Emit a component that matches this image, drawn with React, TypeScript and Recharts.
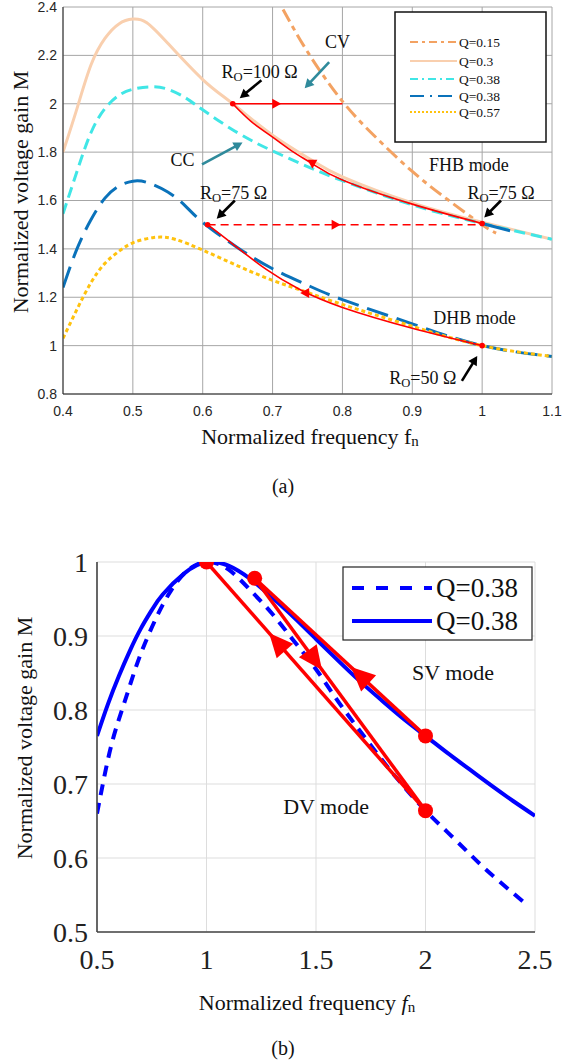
import React from 'react';
import { ComposedChart, Line, XAxis, YAxis, CartesianGrid, ReferenceLine, ReferenceDot } from 'recharts';

// ================= (a) data =================
const aTicksX = [0.4, 0.5, 0.6, 0.7, 0.8, 0.9, 1, 1.1];
const aTicksY = [0.8, 1, 1.2, 1.4, 1.6, 1.8, 2, 2.2, 2.4];

const q015F = [0.715, 0.75, 0.8, 0.85, 0.9, 0.95, 1.0, 1.02];
const q015M = [2.39, 2.215, 2.01, 1.855, 1.72, 1.605, 1.5, 1.465];

const q03F = [0.4, 0.42, 0.44, 0.46, 0.48, 0.5, 0.52, 0.55, 0.6, 0.643, 0.7, 0.757, 0.8, 0.9, 1.0, 1.1];
const q03M = [1.8, 1.98, 2.16, 2.27, 2.33, 2.35, 2.335, 2.25, 2.1, 2.0, 1.87, 1.765, 1.698, 1.59, 1.51, 1.44];

const q038cF = [0.4, 0.42, 0.44, 0.46, 0.48, 0.5, 0.525, 0.55, 0.575, 0.6, 0.65, 0.7, 0.75, 0.8, 0.9, 1.0, 1.1];
const q038cM = [1.545, 1.72, 1.88, 1.98, 2.035, 2.06, 2.07, 2.06, 2.025, 1.975, 1.88, 1.805, 1.74, 1.682, 1.582, 1.505, 1.44];

const q038bF = [0.4, 0.42, 0.44, 0.46, 0.48, 0.5, 0.52, 0.55, 0.575, 0.6, 0.65, 0.7, 0.75, 0.8, 0.9, 1.0, 1.1];
const q038bM = [1.24, 1.4, 1.52, 1.61, 1.66, 1.68, 1.675, 1.635, 1.578, 1.51, 1.405, 1.318, 1.25, 1.19, 1.09, 1.0, 0.955];

const q038bTopF = [1.0, 1.04];
const q038bTopM = [1.505, 1.475];

const q057F = [0.4, 0.42, 0.44, 0.46, 0.48, 0.5, 0.53, 0.56, 0.6, 0.65, 0.7, 0.75, 0.8, 0.9, 1.0, 1.1];
const q057M = [1.03, 1.15, 1.26, 1.34, 1.39, 1.425, 1.447, 1.44, 1.395, 1.33, 1.27, 1.22, 1.17, 1.08, 1.0, 0.955];

const redFlatF = [0.643, 0.8];
const redFlatM = [2.0, 2.0];
const redUpperF = [0.643, 0.67, 0.7, 0.73, 0.757, 0.8, 0.9, 1.0];
const redUpperM = [2.0, 1.925, 1.862, 1.8, 1.752, 1.685, 1.585, 1.505];
const redDashF = [0.607, 1.0];
const redDashM = [1.5, 1.5];
const redLowerF = [0.607, 0.643, 0.691, 0.739, 0.8, 0.9, 1.0];
const redLowerM = [1.5, 1.42, 1.315, 1.232, 1.158, 1.072, 1.0];

const aDotF = [0.643, 0.607, 1.0, 1.0];
const aDotM = [2.0, 1.5, 1.505, 1.0];

// direction markers: from -> to (marker drawn at "to")
const aMarkFromF = [0.7, 0.757, 0.785, 0.752];
const aMarkFromM = [2.0, 1.76, 1.5, 1.218];
const aMarkToF = [0.706, 0.757, 0.791, 0.746];
const aMarkToM = [2.0, 1.75, 1.5, 1.218];

// annotation arrows (tail -> head)
const aBlackTailF = [0.684, 1.027, 0.646, 0.971];
const aBlackTailM = [2.097, 1.6, 1.6, 0.854];
const aBlackHeadF = [0.653, 1.003, 0.62, 0.993];
const aBlackHeadM = [2.023, 1.53, 1.525, 0.957];
const aTealTailF = [0.781, 0.599];
const aTealTailM = [2.172, 1.749];
const aTealHeadF = [0.746, 0.657];
const aTealHeadM = [2.064, 1.84];

// annotation texts
const aTextMain = ['R', 'CV', 'CC', 'FHB mode', 'R', 'R', 'DHB mode', 'R'];
const aTextSub = ['O', '', '', '', 'O', 'O', '', 'O'];
const aTextRest = ['=100 Ω', '', '', '', '=75 Ω', '=75 Ω', '', '=50 Ω'];
const aTextF = [0.627, 0.793, 0.571, 0.981, 0.979, 0.596, 0.989, 0.867];
const aTextM = [2.131, 2.255, 1.766, 1.745, 1.633, 1.633, 1.115, 0.866];
const aTextAnchor = ['start', 'middle', 'middle', 'middle', 'start', 'start', 'middle', 'start'];

// ================= (b) data =================
const bTicksX = [0.5, 1, 1.5, 2, 2.5];
const bTicksY = [0.5, 0.6, 0.7, 0.8, 0.9, 1];

const bSolidF = [0.5, 0.55, 0.6, 0.65, 0.7, 0.75, 0.8, 0.9, 1.0, 1.1, 1.2, 1.3, 1.4, 1.5, 1.6, 1.7, 1.8, 1.9, 2.0, 2.1, 2.2, 2.3, 2.4, 2.5];
const bSolidM = [0.765, 0.808, 0.846, 0.88, 0.91, 0.935, 0.956, 0.985, 1.0, 0.995, 0.977, 0.952, 0.925, 0.896, 0.867, 0.839, 0.813, 0.788, 0.765, 0.742, 0.72, 0.698, 0.677, 0.657];

const bDashF = [0.5, 0.53, 0.575, 0.636, 0.7, 0.8, 0.9, 1.0, 1.1, 1.2, 1.3, 1.4, 1.5, 1.6, 1.7, 1.8, 1.9, 2.0, 2.1, 2.2, 2.3, 2.45];
const bDashM = [0.66, 0.705, 0.763, 0.82, 0.876, 0.942, 0.985, 1.0, 0.99, 0.962, 0.93, 0.893, 0.855, 0.812, 0.772, 0.733, 0.697, 0.664, 0.635, 0.606, 0.578, 0.54];

const bRed1F = [1.0, 2.0];
const bRed1M = [1.0, 0.664];
const bRed2F = [1.22, 2.0];
const bRed2M = [0.978, 0.664];
const bRed3F = [1.22, 2.0];
const bRed3M = [0.978, 0.765];

const bDotF = [1.0, 1.22, 2.0, 2.0];
const bDotM = [1.0, 0.978, 0.765, 0.664];

const bMarkFromF = [2.0, 1.22, 2.0];
const bMarkFromM = [0.664, 0.978, 0.765];
const bMarkToF = [1.322, 1.495, 1.7];
const bMarkToM = [0.892, 0.867, 0.847];

const bTextMain = ['SV mode', 'DV mode'];
const bTextF = [2.126, 1.546];
const bTextM = [0.851, 0.67];

const legendA = ['Q=0.15', 'Q=0.3', 'Q=0.38', 'Q=0.38', 'Q=0.57'];
const legendB = ['Q=0.38', 'Q=0.38'];

// ================= helpers =================
const pts = (f: number[], m: number[]) => f.map((x, i) => ({ f: x, M: m[i] }));
const fmt = (v: number) => String(v);

const SERIF = '"Liberation Serif", "Times New Roman", serif';
const SANS = '"Liberation Sans", Arial, sans-serif';

const aSeries = [
  { key: 'q015', data: pts(q015F, q015M), color: '#f3a262', dash: '14 5 5 5', width: 3 },
  { key: 'q03', data: pts(q03F, q03M), color: '#f9cfae', dash: undefined, width: 3 },
  { key: 'q038c', data: pts(q038cF, q038cM), color: '#40e6e6', dash: '11 6', width: 3 },
  { key: 'q038b', data: pts(q038bF, q038bM), color: '#0a72ba', dash: '22 9', width: 3 },
  { key: 'q038bTop', data: pts(q038bTopF, q038bTopM), color: '#0a72ba', dash: undefined, width: 3 },
  { key: 'q057', data: pts(q057F, q057M), color: '#ffc20e', dash: '4 3', width: 3 },
];
const aLegendStyle = [
  { color: '#f3a262', dash: '8 4 3 4' },
  { color: '#f9cfae', dash: undefined },
  { color: '#40e6e6', dash: '8 4 2 4' },
  { color: '#0a72ba', dash: '14 6 2 6' },
  { color: '#ffc20e', dash: '2 2' },
];

const aRed = [
  { key: 'rf', data: pts(redFlatF, redFlatM), dash: undefined },
  { key: 'ru', data: pts(redUpperF, redUpperM), dash: undefined },
  { key: 'rd', data: pts(redDashF, redDashM), dash: '8 5' },
  { key: 'rl', data: pts(redLowerF, redLowerM), dash: undefined },
];

const triShape = (color: string, len: number, wid: number) => (p: any) => {
  const { x1, y1, x2, y2 } = p;
  if ([x1, y1, x2, y2].some((v) => typeof v !== 'number' || isNaN(v))) return <g />;
  const a = Math.atan2(y2 - y1, x2 - x1);
  const c = Math.cos(a), s = Math.sin(a);
  const tip = [x2 + (c * len) / 2, y2 + (s * len) / 2];
  const bx = x2 - (c * len) / 2, by = y2 - (s * len) / 2;
  const l = [bx - (s * wid) / 2, by + (c * wid) / 2];
  const r = [bx + (s * wid) / 2, by - (c * wid) / 2];
  return <polygon points={`${tip[0]},${tip[1]} ${l[0]},${l[1]} ${r[0]},${r[1]}`} fill={color} stroke="none" />;
};

const arrowShape = (color: string, w: number, head: number) => (p: any) => {
  const { x1, y1, x2, y2 } = p;
  if ([x1, y1, x2, y2].some((v) => typeof v !== 'number' || isNaN(v))) return <g />;
  const a = Math.atan2(y2 - y1, x2 - x1);
  const c = Math.cos(a), s = Math.sin(a);
  const bx = x2 - c * head, by = y2 - s * head;
  const hw = head * 0.55;
  return (
    <g>
      <line x1={x1} y1={y1} x2={bx + c * 1} y2={by + s * 1} stroke={color} strokeWidth={w} />
      <polygon
        points={`${x2},${y2} ${bx - s * hw},${by + c * hw} ${bx + s * hw},${by - c * hw}`}
        fill={color}
        stroke="none"
      />
    </g>
  );
};

const textShape = (main: string, sub: string, rest: string, anchor: string, size: number) => (p: any) => (
  <text
    x={p.cx}
    y={p.cy}
    textAnchor={anchor as any}
    dominantBaseline="central"
    fontFamily={SERIF}
    fontSize={size}
    fill="#111"
  >
    {main}
    {sub ? (
      <tspan fontSize={size * 0.7} dy={size * 0.28}>
        {sub}
      </tspan>
    ) : null}
    {rest ? <tspan dy={sub ? -size * 0.28 : 0}>{rest}</tspan> : null}
  </text>
);

function ChartA() {
  return (
    <ComposedChart width={565} height={430} margin={{ top: 7, right: 13, bottom: 6, left: 0 }}>
      <CartesianGrid stroke="#a6a6a6" strokeWidth={1} />
      <XAxis
        type="number"
        dataKey="f"
        domain={[0.4, 1.1]}
        ticks={aTicksX}
        interval={0}
        allowDataOverflow
        tickFormatter={fmt}
        tickLine={false}
        tickSize={0}
        tickMargin={12}
        height={30}
        axisLine={{ stroke: '#262626', strokeWidth: 1 }}
        tick={{ fontFamily: SANS, fontSize: 14, fill: '#262626' }}
      />
      <YAxis
        type="number"
        domain={[0.8, 2.4]}
        ticks={aTicksY}
        interval={0}
        allowDataOverflow
        tickFormatter={fmt}
        tickLine={false}
        tickSize={0}
        tickMargin={6}
        width={63}
        axisLine={{ stroke: '#262626', strokeWidth: 1 }}
        tick={{ fontFamily: SANS, fontSize: 14, fill: '#262626' }}
      />
      {aSeries.map((s) => (
        <Line
          key={s.key}
          data={s.data}
          dataKey="M"
          type="natural"
          stroke={s.color}
          strokeWidth={s.width}
          strokeDasharray={s.dash}
          dot={false}
          activeDot={false}
          isAnimationActive={false}
          legendType="none"
        />
      ))}
      {aRed.map((s) => (
        <Line
          key={s.key}
          data={s.data}
          dataKey="M"
          type="natural"
          stroke="#ff0000"
          strokeWidth={1.6}
          strokeDasharray={s.dash}
          dot={false}
          activeDot={false}
          isAnimationActive={false}
          legendType="none"
        />
      ))}
      <Line
        data={pts(aDotF, aDotM)}
        dataKey="M"
        stroke="none"
        dot={{ r: 2.8, fill: '#ff0000', stroke: 'none' }}
        activeDot={false}
        isAnimationActive={false}
        legendType="none"
      />
      {aMarkToF.map((f, i) => (
        <ReferenceLine
          key={'am' + i}
          segment={[
            { x: aMarkFromF[i], y: aMarkFromM[i] },
            { x: f, y: aMarkToM[i] },
          ]}
          ifOverflow="visible"
          shape={triShape('#ff0000', 9, 10)}
        />
      ))}
      {aBlackHeadF.map((f, i) => (
        <ReferenceLine
          key={'ab' + i}
          segment={[
            { x: aBlackTailF[i], y: aBlackTailM[i] },
            { x: f, y: aBlackHeadM[i] },
          ]}
          ifOverflow="visible"
          shape={arrowShape('#000', 2.6, 9)}
        />
      ))}
      {aTealHeadF.map((f, i) => (
        <ReferenceLine
          key={'at' + i}
          segment={[
            { x: aTealTailF[i], y: aTealTailM[i] },
            { x: f, y: aTealHeadM[i] },
          ]}
          ifOverflow="visible"
          shape={arrowShape('#2f8a9b', 2.6, 9)}
        />
      ))}
      {aTextMain.map((t, i) => (
        <ReferenceDot
          key={'tx' + i}
          x={aTextF[i]}
          y={aTextM[i]}
          r={0}
          ifOverflow="visible"
          shape={textShape(t, aTextSub[i], aTextRest[i], aTextAnchor[i], 18)}
        />
      ))}
    </ComposedChart>
  );
}

function ChartB() {
  return (
    <ComposedChart width={565} height={500} margin={{ top: 62, right: 30, bottom: 28, left: 0 }}>
      <CartesianGrid stroke="#dddddd" strokeWidth={1} />
      <XAxis
        type="number"
        dataKey="f"
        domain={[0.5, 2.5]}
        ticks={bTicksX}
        interval={0}
        allowDataOverflow
        tickFormatter={fmt}
        tickLine={false}
        tickSize={0}
        tickMargin={17}
        height={40}
        axisLine={{ stroke: '#444', strokeWidth: 1.6 }}
        tick={{ fontFamily: SERIF, fontSize: 28, fill: '#222' }}
      />
      <YAxis
        type="number"
        domain={[0.5, 1]}
        ticks={bTicksY}
        interval={0}
        allowDataOverflow
        tickFormatter={fmt}
        tickLine={false}
        tickSize={0}
        tickMargin={9}
        width={97}
        axisLine={{ stroke: '#444', strokeWidth: 1.6 }}
        tick={{ fontFamily: SERIF, fontSize: 28, fill: '#222' }}
      />
      <Line
        data={pts(bDashF, bDashM)}
        dataKey="M"
        type="natural"
        stroke="#0000ff"
        strokeWidth={4}
        strokeDasharray="11 8"
        dot={false}
        activeDot={false}
        isAnimationActive={false}
        legendType="none"
      />
      <Line
        data={pts(bSolidF, bSolidM)}
        dataKey="M"
        type="natural"
        stroke="#0000ff"
        strokeWidth={4}
        dot={false}
        activeDot={false}
        isAnimationActive={false}
        legendType="none"
      />
      {[pts(bRed1F, bRed1M), pts(bRed2F, bRed2M), pts(bRed3F, bRed3M)].map((d, i) => (
        <Line
          key={'br' + i}
          data={d}
          dataKey="M"
          type="linear"
          stroke="#ff0000"
          strokeWidth={3.5}
          dot={false}
          activeDot={false}
          isAnimationActive={false}
          legendType="none"
        />
      ))}
      <Line
        data={pts(bDotF, bDotM)}
        dataKey="M"
        stroke="none"
        dot={{ r: 7.5, fill: '#ff0000', stroke: 'none' }}
        activeDot={false}
        isAnimationActive={false}
        legendType="none"
      />
      {bMarkToF.map((f, i) => (
        <ReferenceLine
          key={'bm' + i}
          segment={[
            { x: bMarkFromF[i], y: bMarkFromM[i] },
            { x: f, y: bMarkToM[i] },
          ]}
          ifOverflow="visible"
          shape={triShape('#ff0000', 24, 22)}
        />
      ))}
      {bTextMain.map((t, i) => (
        <ReferenceDot
          key={'bt' + i}
          x={bTextF[i]}
          y={bTextM[i]}
          r={0}
          ifOverflow="visible"
          shape={textShape(t, '', '', 'middle', 22)}
        />
      ))}
    </ComposedChart>
  );
}

function Overlay() {
  const aY = [42, 61, 79, 96, 112];
  const bY = [588, 621];
  return (
    <svg width={565} height={1064} style={{ position: 'absolute', left: 0, top: 0, pointerEvents: 'none' }}>
      <text
        transform="translate(20,192) rotate(-90)"
        textAnchor="middle"
        dominantBaseline="central"
        fontFamily={SERIF}
        fontSize={22}
        fill="#111"
      >
        Normalized voltage gain M
      </text>
      <text x={310} y={436} textAnchor="middle" dominantBaseline="central" fontFamily={SERIF} fontSize={22} fill="#111">
        Normalized frequency f<tspan fontSize={15} dy={5}>n</tspan>
      </text>
      <text x={283} y={486} textAnchor="middle" dominantBaseline="central" fontFamily={SERIF} fontSize={20} fill="#111">
        (a)
      </text>
      <rect x={395} y={12} width={151} height={130} fill="#fff" stroke="#111" strokeWidth={1.5} />
      {legendA.map((t, i) => (
        <g key={'la' + i}>
          <line x1={410} x2={457} y1={aY[i]} y2={aY[i]} stroke={aLegendStyle[i].color} strokeWidth={2} strokeDasharray={aLegendStyle[i].dash} />
          <text x={459} y={aY[i]} dominantBaseline="central" fontFamily={SERIF} fontSize={13.5} fill="#111">
            {t}
          </text>
        </g>
      ))}
      <text
        transform="translate(24,738) rotate(-90)"
        textAnchor="middle"
        dominantBaseline="central"
        fontFamily={SERIF}
        fontSize={22}
        fill="#111"
      >
        Normalized voltage gain M
      </text>
      <text x={307} y={1002} textAnchor="middle" dominantBaseline="central" fontFamily={SERIF} fontSize={22} fill="#111">
        Normalized frequency{'  '}
        <tspan fontStyle="italic">f</tspan>
        <tspan fontSize={15} dy={5}>n</tspan>
      </text>
      <text x={283} y={1048} textAnchor="middle" dominantBaseline="central" fontFamily={SERIF} fontSize={20} fill="#111">
        (b)
      </text>
      <rect x={343} y={567} width={189} height={73} fill="#fff" stroke="#222" strokeWidth={1.2} />
      {legendB.map((t, i) => (
        <g key={'lb' + i}>
          <line x1={352} x2={432} y1={bY[i]} y2={bY[i]} stroke="#0000ff" strokeWidth={4} strokeDasharray={i === 0 ? '12 12' : undefined} />
          <text x={436} y={bY[i]} dominantBaseline="central" fontFamily={SERIF} fontSize={27} fill="#111">
            {t}
          </text>
        </g>
      ))}
    </svg>
  );
}

export default function App() {
  return (
    <div style={{ position: 'absolute', left: 0, top: 0, width: 565, height: 1064, background: '#fff', overflow: 'hidden' }}>
      <div style={{ position: 'absolute', left: 0, top: 0 }}>
        <ChartA />
      </div>
      <div style={{ position: 'absolute', left: 0, top: 500 }}>
        <ChartB />
      </div>
      <Overlay />
    </div>
  );
}
